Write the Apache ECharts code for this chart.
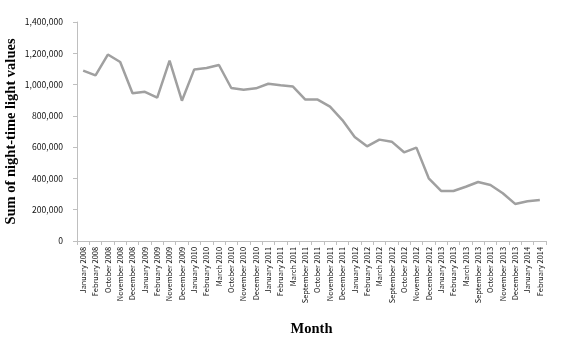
<!DOCTYPE html>
<html><head><meta charset="utf-8">
<script src="https://cdn.jsdelivr.net/npm/echarts@6/dist/echarts.min.js"></script>
<style>html,body{margin:0;padding:0;background:#fff}#c{width:570px;height:342px}</style>
</head><body><div id="c"></div>
<script>
const months = ["January 2008","February 2008","October 2008","November 2008","December 2008","January 2009","February 2009","November 2009","December 2009","January 2010","February 2010","March 2010","October 2010","November 2010","December 2010","January 2011","February 2011","March 2011","September 2011","October 2011","November 2011","December 2011","January 2012","February 2012","March 2012","September 2012","October 2012","November 2012","December 2012","January 2013","February 2013","March 2013","September 2013","October 2013","November 2013","December 2013","January 2014","February 2014"];
const lightValues = [1089000,1059000,1192000,1144000,944000,954000,916000,1153000,897000,1097000,1106000,1125000,978000,967000,976000,1005000,995000,987000,904000,904000,859000,773000,665000,605000,648000,635000,567000,597000,401000,320000,320000,347000,377000,358000,305000,237000,254000,262000];
const yTicks = [0,200000,400000,600000,800000,1000000,1200000,1400000];

const chart = echarts.init(document.getElementById('c'));
const axisGray = '#bfbfbf';
chart.setOption({
  animation: false,
  grid: {left: 77, right: 24, top: 22, bottom: 101, containLabel: false, outerBoundsMode: 'none'},
  xAxis: {
    type: 'category',
    data: months,
    name: 'Month',
    nameLocation: 'middle',
    nameGap: 81,
    nameMoveOverlap: false,
    nameTextStyle: {fontFamily: 'Liberation Serif', fontWeight: 'bold', fontSize: 14.5, color: '#000'},
    axisLine: {lineStyle: {color: axisGray, width: 1}},
    axisTick: {show: true, length: 4, lineStyle: {color: axisGray}},
    axisLabel: {rotate: 90, interval: 0, fontFamily: '"Noto Sans CJK SC"', fontSize: 7.4, color: '#111', margin: 6}
  },
  yAxis: {
    type: 'value',
    min: 0, max: 1400000, interval: 200000,
    name: 'Sum of night-time light values',
    nameLocation: 'middle',
    nameGap: 58,
    nameMoveOverlap: false,
    nameTextStyle: {fontFamily: 'Liberation Serif', fontWeight: 'bold', fontSize: 14.5, color: '#000'},
    axisLine: {show: true, lineStyle: {color: axisGray, width: 1}},
    axisTick: {show: true, length: 4, lineStyle: {color: axisGray}},
    splitLine: {show: false},
    axisLabel: {
      fontFamily: '"Noto Sans CJK SC"', fontSize: 8.6, color: '#111', margin: 14,
      formatter: v => yTicks.includes(v) ? v.toLocaleString('en-US') : ''
    }
  },
  series: [{
    type: 'line',
    data: lightValues,
    symbol: 'none',
    lineStyle: {color: '#a0a0a0', width: 2.5}
  }]
});
</script></body></html>
